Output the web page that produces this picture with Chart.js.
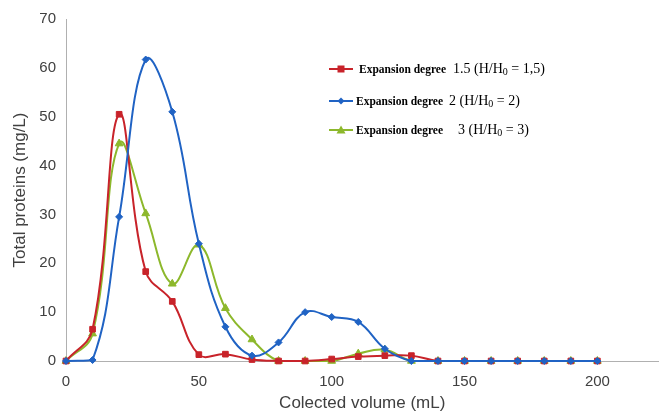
<!DOCTYPE html>
<html>
<head>
<meta charset="utf-8">
<script src="https://cdn.jsdelivr.net/npm/chart.js@4"></script>
<style>
  body { margin: 0; background: #fff; }
  #wrap { position: relative; width: 664px; height: 414px; }
  #legend { position: absolute; left: 328px; top: 58px; font-family: "Liberation Serif", serif; color: #000; }
  .item { position: absolute; white-space: pre; height: 20px; line-height: 20px; }
  .item canvas { vertical-align: middle; margin-right: 4px; }
  .item b { font-size: 11.5px; }
  .item span { font-size: 14px; }
  .item sub { font-size: 10px; vertical-align: -2px; line-height: 0; }
</style>
</head>
<body>
<div id="wrap">
  <canvas id="chart" width="664" height="414"></canvas>
  <div id="legend"></div>
</div>
<script>
const volumes = [0, 10, 20, 30, 40, 50, 60, 70, 80, 90, 100, 110, 120, 130, 140, 150, 160, 170, 180, 190, 200];
const degree15 = [0, 6.5, 50.5, 18.3, 12.2, 1.3, 1.4, 0.3, 0, 0, 0.4, 0.9, 1.1, 1.1, 0, 0, 0, 0, 0, 0, 0];
const degree2 = [0, 0.2, 29.5, 61.7, 51, 24, 7, 1.1, 3.8, 10, 9, 8, 2.5, 0, 0, 0, 0, 0, 0, 0, 0];
const degree3 = [0, 5.6, 44.5, 30.2, 15.8, 23.8, 10.8, 4.4, 0, 0, 0, 1.5, 2.3, 0, 0, 0, 0, 0, 0, 0, 0];
const seriesValues = ["1.5", "2", "3"];
const seriesRatios = ["1,5", "2", "3"];
const xTicks = [0, 50, 100, 150, 200];
const yTicks = [0, 10, 20, 30, 40, 50, 60, 70];

const colors = ["#c8232a", "#2063c4", "#8db82c"];
const shapes = ["rect", "rectRot", "triangle"];
const radii = [4, 3.5, 4.5];

function toPoints(arr) {
  return arr.map((v, i) => ({ x: volumes[i], y: v }));
}

const datasets = [degree15, degree2, degree3].map((arr, i) => ({
  label: "Expansion degree " + seriesValues[i],
  data: toPoints(arr),
  borderColor: colors[i],
  backgroundColor: colors[i],
  borderWidth: 2,
  pointStyle: shapes[i],
  pointRadius: radii[i],
  pointBorderWidth: 1,
  tension: 0.4,
  clip: 8,
}));
// green drawn last, on top
const ordered = [datasets[1], datasets[0], datasets[2]];

new Chart(document.getElementById("chart"), {
  type: "line",
  data: { datasets: ordered },
  options: {
    responsive: false,
    animation: false,
    layout: { padding: { top: 19, right: 5, left: 0, bottom: 0 } },
    plugins: { legend: { display: false }, tooltip: { enabled: false } },
    scales: {
      x: {
        type: "linear",
        min: 0,
        max: 223,
        afterBuildTicks: s => { s.ticks = xTicks.map(v => ({ value: v })); },
        afterFit: s => { s.height = 53; },
        grid: { display: false, drawTicks: false },
        border: { color: "#b0b0b0", width: 1 },
        ticks: { color: "#404040", font: { family: "Liberation Sans", size: 15 }, padding: 12, maxRotation: 0 },
        title: { display: true, text: "Colected volume (mL)", color: "#404040", font: { family: "Liberation Sans", size: 17 }, padding: { top: 0, bottom: 0 } },
      },
      y: {
        min: 0,
        max: 70,
        afterBuildTicks: s => { s.ticks = yTicks.map(v => ({ value: v })); },
        afterFit: s => { s.width = 66; },
        grid: { display: false, drawTicks: false },
        border: { color: "#b0b0b0", width: 1 },
        ticks: { color: "#404040", font: { family: "Liberation Sans", size: 15 }, padding: 10 },
        title: { display: true, text: "Total proteins (mg/L)", color: "#404040", font: { family: "Liberation Sans", size: 17 }, padding: { top: 10, bottom: 4 } },
      },
    },
  },
});

// legend overlay
const legend = document.getElementById("legend");
const rows = [0, 32, 61];
const textLeft = [5, 2, 2];
const gaps = [7, 6, 15];
datasets.forEach((d, i) => {
  const item = document.createElement("div");
  item.className = "item";
  item.style.top = rows[i] + "px";
  const ic = document.createElement("canvas");
  ic.width = 26; ic.height = 12;
  ic.style.marginRight = textLeft[i] + "px";
  const ctx = ic.getContext("2d");
  ctx.strokeStyle = d.borderColor; ctx.fillStyle = d.borderColor; ctx.lineWidth = 2;
  ctx.beginPath(); ctx.moveTo(1, 6); ctx.lineTo(25, 6); ctx.stroke();
  ctx.beginPath();
  if (i === 0) ctx.rect(9.5, 2.5, 7, 7);
  else if (i === 1) { ctx.moveTo(13, 2.5); ctx.lineTo(16.5, 6); ctx.lineTo(13, 9.5); ctx.lineTo(9.5, 6); }
  else { ctx.moveTo(13, 1.5); ctx.lineTo(17.5, 9.5); ctx.lineTo(8.5, 9.5); }
  ctx.fill();
  item.appendChild(ic);
  const b = document.createElement("b");
  b.textContent = "Expansion degree";
  item.appendChild(b);
  const s = document.createElement("span");
  s.style.marginLeft = gaps[i] + "px";
  s.innerHTML = seriesValues[i] + " (H/H<sub>0</sub> = " + seriesRatios[i] + ")";
  item.appendChild(s);
  legend.appendChild(item);
});
</script>
</body>
</html>
